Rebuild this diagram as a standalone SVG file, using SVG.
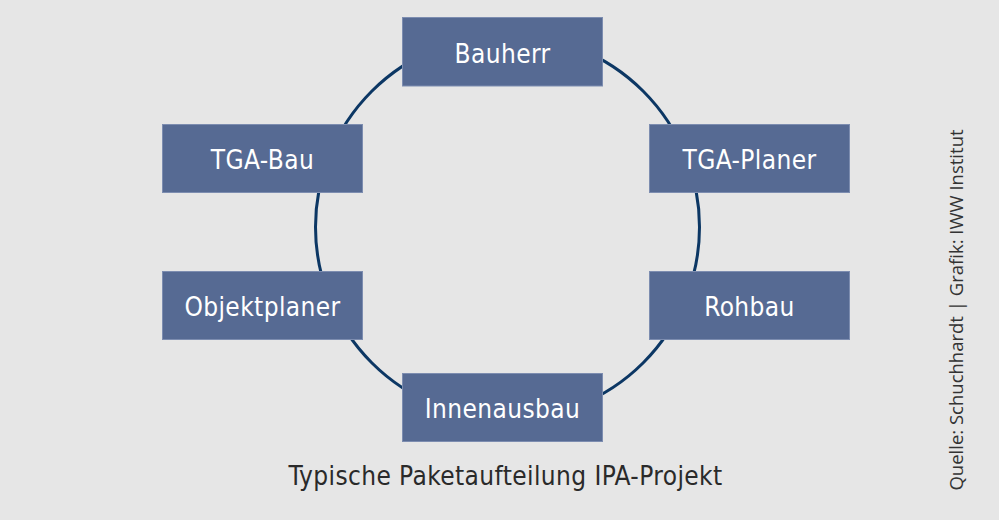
<svg xmlns="http://www.w3.org/2000/svg" width="999" height="520" viewBox="0 0 999 520">
<style>
.box{fill:#566a93;stroke:#7d8db0;stroke-width:1}
.lbl{font-family:"DejaVu Sans Condensed","DejaVu Sans","Liberation Sans",sans-serif;font-size:26px;fill:#ffffff;text-anchor:middle;letter-spacing:0.4px}
.cap{font-family:"DejaVu Sans Condensed","DejaVu Sans","Liberation Sans",sans-serif;font-size:26px;fill:#2a2a2a;text-anchor:middle;letter-spacing:0.4px}
.src{font-family:"Open Sans","Liberation Sans",sans-serif;font-size:18.5px;fill:#333333;text-anchor:middle}
</style>
<rect width="999" height="520" fill="#e6e6e6"/>
<g id="connectors">
<circle cx="507.5" cy="227" r="192" fill="none" stroke="#0c3764" stroke-width="3"/>
</g>
<g id="bauherr"><rect class="box" x="402.5" y="17.5" width="200" height="68.5"/><text class="lbl" x="502.5" y="63">Bauherr</text></g>
<g id="tga-bau"><rect class="box" x="162.5" y="124.5" width="200" height="68"/><text class="lbl" x="262.5" y="169">TGA-Bau</text></g>
<g id="tga-planer"><rect class="box" x="649.5" y="124.5" width="200" height="68"/><text class="lbl" x="749.5" y="169">TGA-Planer</text></g>
<g id="objektplaner"><rect class="box" x="162.5" y="271.5" width="200" height="68"/><text class="lbl" x="262.5" y="316">Objektplaner</text></g>
<g id="rohbau"><rect class="box" x="649.5" y="271.5" width="200" height="68"/><text class="lbl" x="749.5" y="316">Rohbau</text></g>
<g id="innenausbau"><rect class="box" x="402.5" y="373.5" width="200" height="68"/><text class="lbl" x="502.5" y="418">Innenausbau</text></g>
<text class="cap" x="505.5" y="485">Typische Paketaufteilung IPA-Projekt</text>
<text class="src" transform="translate(963,310) rotate(-90)">Quelle: Schuchhardt | Grafik: IWW Institut</text>
</svg>
